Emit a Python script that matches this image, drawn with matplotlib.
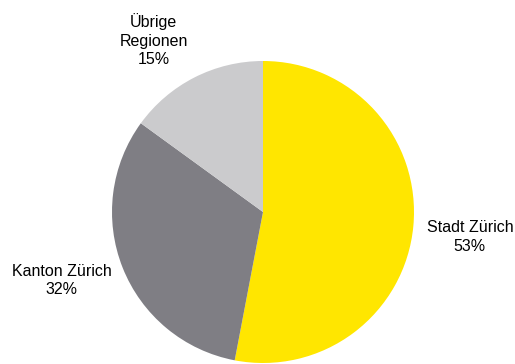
import matplotlib.pyplot as plt
import numpy as np

plt.rcParams['font.family'] = ['Liberation Sans', 'DejaVu Sans']

# Anteile nach Region
labels = ['Stadt Zürich', 'Kanton Zürich', 'Übrige\nRegionen']
values = [53, 32, 15]
colors = ['#FFE600', '#7F7E84', '#CBCBCD']

fig = plt.figure(figsize=(5.15, 3.64), dpi=100)
ax = fig.add_axes([0, 0, 1, 1])

wedges, _ = ax.pie(values, colors=colors, startangle=90, counterclock=False,
                   radius=1.0, wedgeprops=dict(linewidth=0))

# Beschriftungen ausserhalb der Sektoren, zentriert
dist = [1.38, 1.41, 1.35]
shift = [-1.5, -2.8, 5.5]
for w, lab, v, d, s in zip(wedges, labels, values, dist, shift):
    ang = np.deg2rad((w.theta1 + w.theta2) / 2 + s)
    ax.text(d * np.cos(ang), d * np.sin(ang), '{}\n{}%'.format(lab, v),
            ha='center', va='center', fontsize=11.5, linespacing=1.3)

# Kreis: Mitte bei (263, 212) px, Radius 151 px
ax.set_xlim(-263 / 151, (515 - 263) / 151)
ax.set_ylim(-152 / 151, 212 / 151)
ax.set_aspect('auto')
ax.axis('off')

fig.savefig('out.png', dpi=100)
